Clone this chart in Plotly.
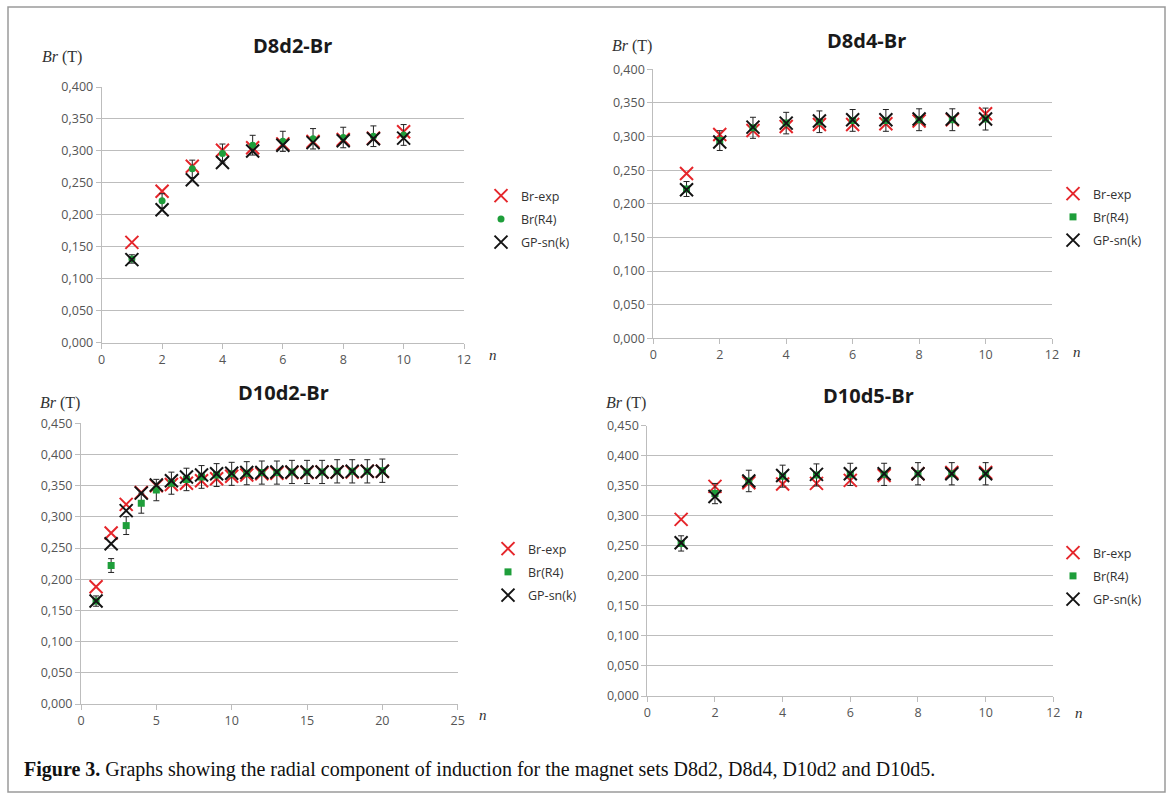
import plotly.graph_objects as go

# ---------------- data ----------------
n_10 = [1, 2, 3, 4, 5, 6, 7, 8, 9, 10]
n_20 = list(range(1, 21))

d8d2_exp = [0.157, 0.237, 0.276, 0.301, 0.305, 0.311, 0.315, 0.318, 0.320, 0.330]
d8d2_r4 = [0.131, 0.222, 0.272, 0.296, 0.309, 0.315, 0.319, 0.321, 0.323, 0.325]
d8d2_gp = [0.130, 0.208, 0.255, 0.282, 0.300, 0.309, 0.313, 0.316, 0.319, 0.320]

d8d4_exp = [0.245, 0.303, 0.309, 0.315, 0.318, 0.318, 0.319, 0.323, 0.325, 0.334]
d8d4_r4 = [0.222, 0.294, 0.313, 0.320, 0.322, 0.324, 0.324, 0.325, 0.325, 0.326]
d8d4_gp = [0.221, 0.292, 0.314, 0.320, 0.323, 0.325, 0.325, 0.326, 0.326, 0.326]

d10d2_exp = [0.188, 0.274, 0.320, 0.339, 0.350, 0.352, 0.354, 0.358, 0.361, 0.365,
             0.367, 0.369, 0.370, 0.371, 0.371, 0.372, 0.372, 0.372, 0.373, 0.373]
d10d2_r4 = [0.165, 0.222, 0.286, 0.322, 0.343, 0.354, 0.360, 0.364, 0.367, 0.369,
            0.370, 0.371, 0.371, 0.372, 0.372, 0.372, 0.373, 0.373, 0.373, 0.374]
d10d2_gp = [0.165, 0.257, 0.310, 0.338, 0.351, 0.358, 0.364, 0.367, 0.369, 0.370,
            0.371, 0.371, 0.372, 0.372, 0.372, 0.372, 0.372, 0.373, 0.373, 0.373]

d10d5_exp = [0.294, 0.349, 0.355, 0.353, 0.354, 0.359, 0.367, 0.370, 0.372, 0.372]
d10d5_r4 = [0.254, 0.337, 0.358, 0.366, 0.368, 0.369, 0.369, 0.370, 0.370, 0.370]
d10d5_gp = [0.255, 0.332, 0.358, 0.367, 0.369, 0.370, 0.370, 0.370, 0.370, 0.370]

series_names = ["Br-exp", "Br(R4)", "GP-sn(k)"]
titles = ["D8d2-Br", "D8d4-Br", "D10d2-Br", "D10d5-Br"]
x_ranges = [[0, 12], [0, 12], [0, 25], [0, 12]]
x_dticks = [2, 2, 5, 2]
y_ranges = [[0, 0.4], [0, 0.4], [0, 0.45], [0, 0.45]]
err_percent = 5

# ---------------- styles / layout ----------------
W, H = 1171, 802
RED = "#e5262b"
GREEN = "#1e9e3a"
BLACK = "#141414"
GRID = "#bdbdbd"
TICKC = "#555555"
FONT = "Open Sans"

panels = [
    dict(n=n_10, exp=d8d2_exp, r4=d8d2_r4, gp=d8d2_gp, r4sym="circle", r4size=7,
         px=(101.7, 464.0), py=(87.0, 342.7),
         title=(292, 45), ylab=(40, 57), nlab=(493, 355), leg=(481, 181)),
    dict(n=n_10, exp=d8d4_exp, r4=d8d4_r4, gp=d8d4_gp, r4sym="square", r4size=7,
         px=(653.3, 1052.0), py=(69.3, 338.3),
         title=(866, 40), ylab=(610, 46), nlab=(1077, 352), leg=(1053, 179)),
    dict(n=n_20, exp=d10d2_exp, r4=d10d2_r4, gp=d10d2_gp, r4sym="square", r4size=7,
         px=(81.0, 457.7), py=(423.3, 704.0),
         title=(283, 393), ylab=(38, 403), nlab=(483, 715), leg=(488, 534)),
    dict(n=n_10, exp=d10d5_exp, r4=d10d5_r4, gp=d10d5_gp, r4sym="square", r4size=7,
         px=(647.3, 1053.3), py=(425.7, 696.0),
         title=(868, 395), ylab=(604, 403), nlab=(1079, 713), leg=(1053, 538)),
]

fig = go.Figure()
annotations = []
layout_axes = {}

for i, p in enumerate(panels):
    k = "" if i == 0 else str(i + 1)
    xa, ya = "x" + k, "y" + k
    leg = "legend" if i == 0 else "legend" + str(i + 1)

    fig.add_trace(go.Scatter(
        x=p["n"], y=p["exp"], mode="markers", name=series_names[0],
        xaxis=xa, yaxis=ya, legend=leg, legendgroup=f"a{i}",
        marker=dict(symbol="x-thin", size=13, color=RED,
                    line=dict(color=RED, width=2)),
    ))
    fig.add_trace(go.Scatter(
        x=p["n"], y=p["r4"], mode="markers", name=series_names[1],
        xaxis=xa, yaxis=ya, legend=leg, legendgroup=f"b{i}",
        marker=dict(symbol=p["r4sym"], size=p["r4size"], color=GREEN,
                    line=dict(width=0)),
        error_y=dict(type="percent", value=err_percent, color="#222222",
                     thickness=1, width=3),
    ))
    fig.add_trace(go.Scatter(
        x=p["n"], y=p["gp"], mode="markers", name=series_names[2],
        xaxis=xa, yaxis=ya, legend=leg, legendgroup=f"c{i}",
        marker=dict(symbol="x-thin", size=13, color=BLACK,
                    line=dict(color=BLACK, width=2)),
    ))

    dx = [p["px"][0] / W, p["px"][1] / W]
    dy = [1 - p["py"][1] / H, 1 - p["py"][0] / H]
    layout_axes["xaxis" + k] = dict(
        domain=dx, range=x_ranges[i], dtick=x_dticks[i], tick0=0,
        anchor=ya, showgrid=False, zeroline=False, showline=True,
        linecolor=GRID, linewidth=1, ticks="outside", ticklen=5,
        tickcolor=GRID, tickfont=dict(family=FONT, size=12.5, color=TICKC),
        fixedrange=True, automargin=False,
    )
    layout_axes["yaxis" + k] = dict(
        domain=dy, range=y_ranges[i], dtick=0.05, tick0=0,
        anchor=xa, showgrid=True, gridcolor=GRID, gridwidth=1,
        zeroline=False, showline=True, linecolor=GRID, linewidth=1,
        ticks="outside", ticklen=5, tickcolor=GRID, tickformat=".3f",
        tickfont=dict(family=FONT, size=12.5, color=TICKC), fixedrange=True,
        automargin=False,
    )
    layout_axes[leg] = dict(
        x=p["leg"][0] / W, y=1 - p["leg"][1] / H, xanchor="left",
        yanchor="top", bgcolor="rgba(0,0,0,0)", borderwidth=0,
        font=dict(family=FONT, size=12.5, color="#333333"),
        tracegroupgap=4, itemwidth=30, traceorder="grouped",
    )

    annotations.append(dict(
        text=f"<b>{titles[i]}</b>", x=p["title"][0] / W, y=1 - p["title"][1] / H,
        xref="paper", yref="paper", showarrow=False, xanchor="center",
        yanchor="middle", font=dict(family=FONT, size=20, color="#1a1a1a"),
    ))
    annotations.append(dict(
        text="<i>B</i><i>r</i> (T)", x=p["ylab"][0] / W, y=1 - p["ylab"][1] / H,
        xref="paper", yref="paper", showarrow=False, xanchor="left",
        yanchor="middle", font=dict(family="Liberation Serif", size=16, color="#333333"),
    ))
    annotations.append(dict(
        text="<i>n</i>", x=p["nlab"][0] / W, y=1 - p["nlab"][1] / H,
        xref="paper", yref="paper", showarrow=False, xanchor="center",
        yanchor="middle", font=dict(family="Liberation Serif", size=15, color="#333333"),
    ))

annotations.append(dict(
    text="<b>Figure 3.</b> Graphs showing the radial component of induction for the magnet sets D8d2, D8d4, D10d2 and D10d5.",
    x=22 / W, y=1 - 769 / H, xref="paper", yref="paper", showarrow=False,
    xanchor="left", yanchor="middle",
    font=dict(family="Liberation Serif", size=20, color="#111111"),
))

fig.update_layout(
    width=W, height=H,
    margin=dict(l=0, r=0, t=0, b=0, pad=0, autoexpand=False),
    paper_bgcolor="white", plot_bgcolor="white",
    separators=",.", showlegend=True,
    annotations=annotations,
    shapes=[dict(type="rect", xref="paper", yref="paper",
                 x0=8 / W, x1=1165 / W, y0=1 - 792 / H, y1=1 - 7 / H,
                 line=dict(color="#9a9a9a", width=1.5))],
    **layout_axes,
)

fig.write_html(
    "out.html",
    config={"displayModeBar": False, "responsive": False},
    post_script=(
        "document.documentElement.style.margin='0';"
        "document.documentElement.style.padding='0';"
        "document.documentElement.style.overflow='hidden';"
        "document.body.style.margin='0';"
        "document.body.style.padding='0';"
        "document.body.style.overflow='hidden';"
    ),
)
